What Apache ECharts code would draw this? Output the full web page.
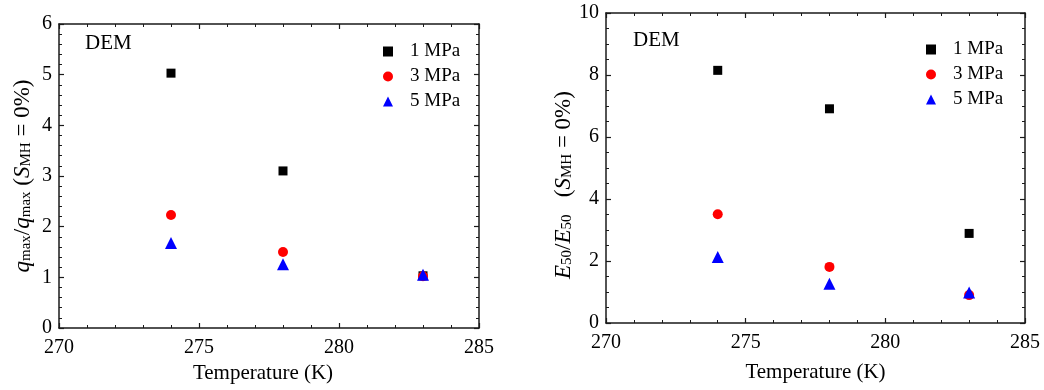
<!DOCTYPE html>
<html>
<head>
<meta charset="utf-8">
<script src="https://cdn.jsdelivr.net/npm/echarts@6/dist/echarts.min.js"></script>
<style>
  html, body { margin: 0; padding: 0; background: #fff; }
  #chart { width: 1044px; height: 390px; }
</style>
</head>
<body>
<div id="chart"></div>
<script>
// Temperatures (K) at which the DEM runs were made
const temperatures = [274, 278, 283];

// Confining pressures
const pressures = ['1 MPa', '3 MPa', '5 MPa'];

// Peak strength ratio q_max / q_max(S_MH = 0%)
const qRatio1MPa = [5.03, 3.10, 1.03];
const qRatio3MPa = [2.23, 1.50, 1.02];
const qRatio5MPa = [1.68, 1.26, 1.05];

// Secant modulus ratio E50 / E50(S_MH = 0%)
const eRatio1MPa = [8.15, 6.91, 2.89];
const eRatio3MPa = [3.51, 1.81, 0.90];
const eRatio5MPa = [2.13, 1.27, 0.98];

const xTicks = [270, 275, 280, 285];

const FONT = '"Liberation Serif", "Times New Roman", serif';
const AXIS_COLOR = '#1a1a1a';
const symbols = ['rect', 'circle', 'triangle'];
const symbolSizes = [9, 10, 12];
const colors = ['#000000', '#ff0000', '#0000ff'];

const pair = (ys) => temperatures.map((t, i) => [t, ys[i]]);

function xAxisPair(nameGap, namePad) {
  const common = {
    type: 'value', min: xTicks[0], max: xTicks[xTicks.length - 1], interval: 5,
    axisLine: { show: true, onZero: false, lineStyle: { color: AXIS_COLOR, width: 1.5 } },
    axisTick: { show: true, inside: true, length: 5, lineStyle: { color: AXIS_COLOR, width: 1.2 } },
    minorTick: { show: true, splitNumber: 5, length: 3, lineStyle: { color: AXIS_COLOR, width: 1 } },
    splitLine: { show: false }
  };
  return [
    Object.assign({}, common, {
      position: 'bottom',
      name: 'Temperature (K)', nameLocation: 'middle', nameGap,
      nameTextStyle: { fontFamily: FONT, fontSize: 21, color: '#000', padding: namePad },
      axisLabel: { fontFamily: FONT, fontSize: 20, color: '#000', margin: 10 }
    }),
    Object.assign({}, common, { position: 'top', axisLabel: { show: false } })
  ];
}

function yAxisPair(max, interval, minorSplit, name, nameGap, namePad) {
  const common = {
    type: 'value', min: 0, max, interval,
    axisLine: { show: true, onZero: false, lineStyle: { color: AXIS_COLOR, width: 1.5 } },
    axisTick: { show: true, inside: true, length: 5, lineStyle: { color: AXIS_COLOR, width: 1.2 } },
    minorTick: { show: true, splitNumber: minorSplit, length: 3, lineStyle: { color: AXIS_COLOR, width: 1 } },
    splitLine: { show: false }
  };
  const base = { fontFamily: FONT, fontSize: 23, color: '#000', lineHeight: 28, verticalAlign: 'bottom' };
  return [
    Object.assign({}, common, {
      position: 'left',
      name, nameLocation: 'middle', nameGap, nameRotate: 90,
      nameTextStyle: {
        fontFamily: FONT, fontSize: 23, color: '#000', padding: namePad,
        rich: {
          n: base,
          i: Object.assign({}, base, { fontStyle: 'italic' }),
          s: { fontFamily: FONT, fontSize: 15, color: '#000', lineHeight: 12, verticalAlign: 'bottom' }
        }
      },
      axisLabel: { fontFamily: FONT, fontSize: 20, color: '#000', margin: 7 }
    }),
    Object.assign({}, common, { position: 'right', axisLabel: { show: false } })
  ];
}

function seriesFor(datasets, axisIndex) {
  return datasets.map((ys, k) => ({
    name: pressures[k],
    type: 'scatter',
    xAxisIndex: axisIndex,
    yAxisIndex: axisIndex,
    symbol: symbols[k],
    symbolSize: symbolSizes[k],
    itemStyle: { color: colors[k], opacity: 1 },
    z: 2 + k,
    data: pair(ys)
  }));
}

function legendAt(left, top) {
  return {
    orient: 'vertical', left, top,
    itemWidth: 10, itemHeight: 10, itemGap: 6,
    textStyle: { fontFamily: FONT, fontSize: 19, color: '#000', lineHeight: 14, padding: [0, 0, 0, 12] },
    data: pressures.map((p, k) => ({ name: p, icon: symbols[k], itemStyle: { color: colors[k], opacity: 1 } }))
  };
}

const chart = echarts.init(document.getElementById('chart'), null, { renderer: 'canvas' });

const leftX = xAxisPair(30, [0, 12, 0, 0]).map(a => Object.assign(a, { gridIndex: 0 }));
const rightX = xAxisPair(39, [0, 0, 0, 0]).map(a => Object.assign(a, { gridIndex: 1 }));
const leftY = yAxisPair(6, 1, 5,
  '{i|q}{s|max}{n|/}{i|q}{s|max}{n| (}{i|S}{s|MH}{n| = 0%)}', 25, [0, 0, 0, 0])
  .map(a => Object.assign(a, { gridIndex: 0 }));
const rightY = yAxisPair(10, 2, 4,
  '{i|E}{s|50}{n|/}{i|E}{s|50}{n|   (}{i|S}{s|MH}{n| = 0%)}', 31, [0, 34, 0, 0])
  .map(a => Object.assign(a, { gridIndex: 1 }));

chart.setOption({
  animation: false,
  backgroundColor: '#ffffff',
  grid: [
    { left: 59, top: 24, width: 420, height: 304, containLabel: false },
    { left: 606, top: 13, width: 419, height: 310, containLabel: false }
  ],
  xAxis: [...leftX, ...rightX],
  yAxis: [...leftY, ...rightY],
  legend: [legendAt(378, 37), legendAt(921, 35)],
  graphic: [
    { type: 'text', left: 85, top: 33, style: { text: 'DEM', fontFamily: FONT, fontSize: 21, fill: '#000' } },
    { type: 'text', left: 633, top: 30, style: { text: 'DEM', fontFamily: FONT, fontSize: 21, fill: '#000' } }
  ],
  series: [
    ...seriesFor([qRatio1MPa, qRatio3MPa, qRatio5MPa], 0),
    ...seriesFor([eRatio1MPa, eRatio3MPa, eRatio5MPa], 2)
  ]
});
</script>
</body>
</html>
